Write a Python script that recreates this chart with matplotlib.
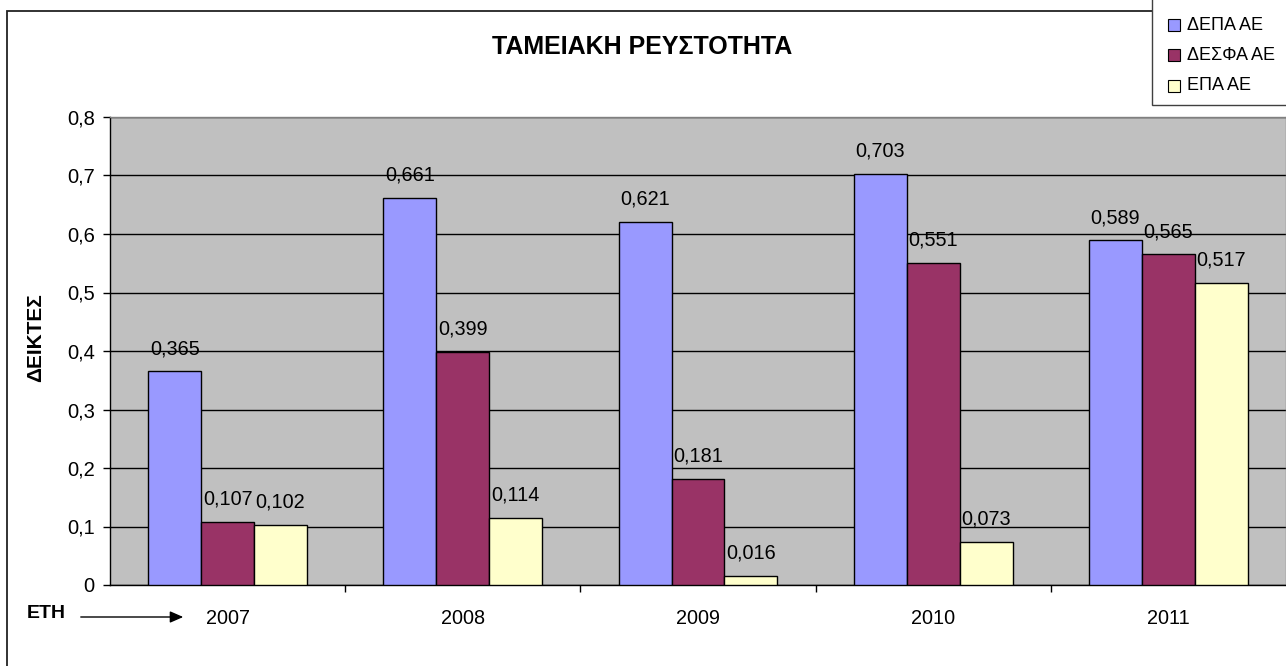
import matplotlib
matplotlib.use("Agg")
import matplotlib.pyplot as plt
from matplotlib.patches import Rectangle
from matplotlib.ticker import FuncFormatter, FixedLocator
import numpy as np

plt.rcParams['font.family'] = ['Liberation Sans', 'DejaVu Sans']

years = ['2007', '2008', '2009', '2010', '2011']
series_names = ['ΔΕΠΑ ΑΕ', 'ΔΕΣΦΑ ΑΕ', 'ΕΠΑ ΑΕ']
depa = [0.365, 0.661, 0.621, 0.703, 0.589]
desfa = [0.107, 0.399, 0.181, 0.551, 0.565]
epa = [0.102, 0.114, 0.016, 0.073, 0.517]
colors = ['#9999FF', '#993366', '#FFFFCC']
title = 'ΤΑΜΕΙΑΚΗ ΡΕΥΣΤΟΤΗΤΑ'
ylabel = 'ΔΕΙΚΤΕΣ'
xlabel = 'ΕΤΗ'

W, H = 1286, 666
fig = plt.figure(figsize=(W / 100, H / 100), dpi=100)
fig.patch.set_facecolor('white')

def fx(px):
    return px / W

def fy(py):
    return 1 - py / H

ax_left, ax_right, ax_top, ax_bottom = 110, 1286, 117, 585
ax = fig.add_axes([fx(ax_left), fy(ax_bottom), fx(ax_right - ax_left), (ax_bottom - ax_top) / H])
ax.set_facecolor('#C0C0C0')

x = np.arange(len(years))
bw = 0.225
all_series = [depa, desfa, epa]
for i, (vals, col) in enumerate(zip(all_series, colors)):
    bars = ax.bar(x + (i - 1) * bw, vals, width=bw, color=col, edgecolor='black',
                  linewidth=1.0, zorder=3)
    for rect, v in zip(bars, vals):
        ax.annotate(f'{v:.3f}'.replace('.', ','),
                    xy=(rect.get_x() + rect.get_width() / 2, rect.get_height()),
                    xytext=(0, 16.5), textcoords='offset points',
                    ha='center', va='center', fontsize=14.3, color='black', zorder=4)

ax.set_xlim(-0.5, len(years) - 0.5)
ax.set_ylim(0, 0.8)
ax.set_yticks(np.arange(0, 0.81, 0.1))
ax.yaxis.set_major_formatter(FuncFormatter(lambda v, p: ('%g' % round(v, 1)).replace('.', ',')))
ax.tick_params(axis='y', length=5, width=1, pad=6, labelsize=14.5, direction='out')
ax.yaxis.grid(True, color='black', linewidth=1.0, zorder=1)
ax.set_axisbelow(True)

ax.set_xticks(x)
ax.set_xticklabels(years)
ax.tick_params(axis='x', which='major', length=0, pad=17, labelsize=14.3)
ax.xaxis.set_minor_locator(FixedLocator(np.arange(0.5, len(years) - 0.5, 1.0)))
ax.tick_params(axis='x', which='minor', length=5, width=1, direction='out')

for s in ['left', 'bottom']:
    ax.spines[s].set_color('black')
    ax.spines[s].set_linewidth(1.0)
for s in ['top', 'right']:
    ax.spines[s].set_color('#808080')
    ax.spines[s].set_linewidth(1.0)

# title and axis labels
fig.text(fx(642), fy(47), title, ha='center', va='center', fontsize=18, fontweight='bold')
fig.text(fx(36), fy(338), ylabel, ha='center', va='center', rotation=90, fontsize=15,
         fontweight='bold')
fig.text(fx(27), fy(613), xlabel, ha='left', va='center', fontsize=14, fontweight='bold')
fig.add_artist(matplotlib.patches.FancyArrowPatch(
    (fx(78), fy(617)), (fx(186), fy(617)), transform=fig.transFigure,
    arrowstyle='-|>,head_length=8,head_width=3.5', color='black', linewidth=1.0,
    mutation_scale=1))

# outer chart border
fig.add_artist(Rectangle((fx(7), fy(H + 10)), fx(W + 20), (H + 10 - 11) / H,
                         transform=fig.transFigure, fill=False, edgecolor='#222222',
                         linewidth=1.3, zorder=0))

# legend box
fig.add_artist(Rectangle((fx(1152), fy(105)), fx(150), (105 + 10) / H,
                         transform=fig.transFigure, facecolor='white', edgecolor='#404040',
                         linewidth=1.0, zorder=5))
leg_rows = [25, 55, 86]
for name, col, ry in zip(series_names, colors, leg_rows):
    fig.add_artist(Rectangle((fx(1168), fy(ry + 6)), fx(12), 12 / H,
                             transform=fig.transFigure, facecolor=col, edgecolor='black',
                             linewidth=0.8, zorder=6))
    fig.text(fx(1187), fy(ry), name, ha='left', va='center', fontsize=13, zorder=7)

fig.savefig('out.png', dpi=100)
